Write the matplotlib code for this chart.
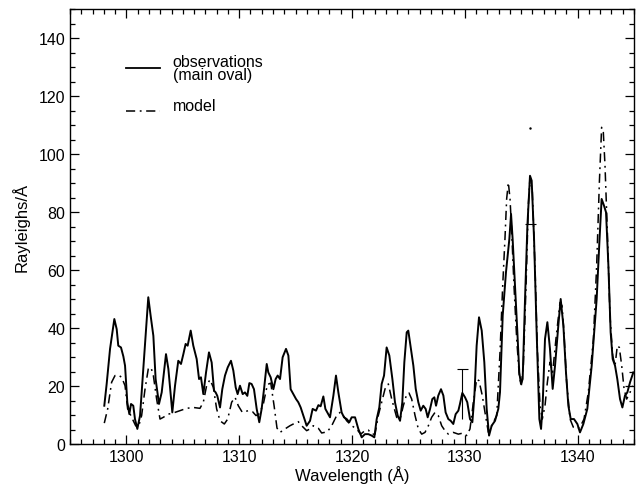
import matplotlib
matplotlib.use("Agg")
import matplotlib.pyplot as plt
from matplotlib.ticker import MultipleLocator

plt.rcParams['font.family'] = ['Liberation Sans', 'DejaVu Sans']

# Observed spectrum (main oval)
obs_wl = [1298.04, 1298.25, 1298.55, 1298.93, 1299.14, 1299.28, 1299.52, 1299.73, 1299.88,
          1300.08, 1300.26, 1300.41, 1300.61, 1300.76, 1300.97, 1301.21, 1301.50, 1301.80,
          1301.94, 1302.15, 1302.39, 1302.59, 1302.89, 1303.13, 1303.51, 1303.72, 1304.07,
          1304.31, 1304.60, 1304.84, 1305.05, 1305.25, 1305.43, 1305.70, 1305.93, 1306.23,
          1306.44, 1306.61, 1306.82, 1307.06, 1307.32, 1307.56, 1307.77, 1307.91, 1308.06,
          1308.30, 1308.50, 1308.74, 1308.98, 1309.27, 1309.48, 1309.69, 1309.86, 1310.07,
          1310.31, 1310.51, 1310.72, 1310.90, 1311.10, 1311.31, 1311.55, 1311.78, 1311.99,
          1312.20, 1312.44, 1312.58, 1312.79, 1313.03, 1313.23, 1313.41, 1313.62, 1313.85,
          1314.15, 1314.36, 1314.56, 1314.80, 1315.04, 1315.24, 1315.45, 1315.69, 1315.98,
          1316.28, 1316.51, 1316.81, 1317.02, 1317.22, 1317.46, 1317.64, 1317.81, 1318.05,
          1318.35, 1318.58, 1318.79, 1319.08, 1319.29, 1319.53, 1319.76, 1319.97, 1320.27,
          1320.56, 1320.86, 1321.15, 1321.45, 1321.74, 1321.98, 1322.19, 1322.42, 1322.63,
          1322.84, 1323.07, 1323.31, 1323.58, 1323.81, 1324.05, 1324.26, 1324.46, 1324.64,
          1324.85, 1324.99, 1325.14, 1325.44, 1325.65, 1325.88, 1326.09, 1326.32, 1326.53,
          1326.71, 1326.92, 1327.12, 1327.30, 1327.45, 1327.65, 1327.89, 1328.10, 1328.30,
          1328.54, 1328.75, 1328.98, 1329.19, 1329.43, 1329.57, 1329.78, 1330.02, 1330.22,
          1330.46, 1330.67, 1330.85, 1331.05, 1331.26, 1331.50, 1331.73, 1331.94, 1332.15,
          1332.38, 1332.68, 1332.97, 1333.12, 1333.36, 1333.65, 1333.95, 1334.10, 1334.24,
          1334.45, 1334.66, 1334.83, 1334.98, 1335.13, 1335.34, 1335.55, 1335.78, 1335.93,
          1336.14, 1336.37, 1336.61, 1336.76, 1336.90, 1337.11, 1337.32, 1337.55, 1337.79,
          1338.00, 1338.29, 1338.50, 1338.74, 1338.97, 1339.18, 1339.39, 1339.68, 1339.98,
          1340.21, 1340.51, 1340.86, 1341.25, 1341.69, 1341.93, 1342.13, 1342.34, 1342.52,
          1342.73, 1342.93, 1343.11, 1343.32, 1343.52, 1343.76, 1343.97, 1344.20, 1344.41,
          1344.65, 1344.94]
obs_val = [13.2, 20.7, 32.8, 43.1, 39.6, 33.9, 33.3, 30.2, 27.0,
           14.4, 10.3, 13.8, 13.2, 8.6, 5.2, 9.8, 25.9, 43.1,
           50.6, 44.2, 37.3, 22.4, 13.8, 17.8, 31.0, 25.9, 10.9,
           20.1, 28.7, 27.6, 31.0, 34.5, 33.9, 39.1, 33.9, 29.3,
           22.4, 23.0, 17.2, 24.7, 31.6, 28.1, 18.4, 17.8, 16.6,
           12.6, 18.9, 23.6, 26.4, 28.7, 25.3, 19.5, 17.2, 20.1,
           17.2, 17.8, 16.6, 21.0, 20.7, 18.9, 12.1, 7.5, 12.1,
           18.9, 27.6, 24.7, 23.0, 18.9, 22.4, 23.6, 22.4, 29.9,
           32.8, 30.5, 18.9, 17.2, 15.5, 14.4, 12.6, 9.8, 6.3,
           8.0, 12.1, 11.5, 13.4, 13.0, 16.4, 12.1, 10.9, 9.2,
           16.7, 23.6, 17.8, 10.9, 9.2, 8.6, 7.5, 9.2, 9.2,
           5.2, 2.3, 3.4, 3.4, 2.9, 2.3, 8.6, 12.6, 20.7,
           23.6, 33.3, 30.5, 22.4, 14.4, 9.8, 8.0, 14.4, 28.2,
           38.5, 39.1, 35.0, 27.0, 19.0, 14.4, 11.5, 13.2, 12.1,
           9.2, 12.1, 15.5, 16.1, 13.2, 16.7, 18.9, 16.7, 10.9,
           8.6, 8.0, 6.9, 10.3, 11.5, 13.8, 17.6, 16.1, 14.4,
           8.6, 7.5, 16.7, 33.9, 43.7, 39.1, 28.2, 12.1, 2.9,
           6.3, 8.0, 12.1, 17.8, 44.3, 59.2, 70.7, 79.3, 70.7,
           54.6, 38.5, 24.7, 20.7, 22.4, 50.0, 75.3, 92.5, 90.8,
           70.7, 38.5, 8.6, 5.2, 13.2, 36.2, 42.0, 32.8, 19.0,
           27.0, 40.8, 50.0, 40.8, 24.7, 13.2, 8.6, 8.6, 6.9,
           4.0, 6.9, 12.1, 27.0, 50.0, 69.5, 84.5, 82.2, 79.9,
           61.5, 38.5, 29.3, 27.0, 22.4, 15.5, 12.6, 16.7, 17.8,
           21.3, 24.7]

# Model spectrum
mod_wl = [1298.04, 1298.34, 1298.69, 1298.99, 1299.28, 1299.58, 1299.88, 1300.11, 1300.47,
          1300.82, 1301.06, 1301.35, 1301.65, 1301.94, 1302.18, 1302.39, 1302.68, 1302.98,
          1303.27, 1303.72, 1304.16, 1304.75, 1305.34, 1305.93, 1306.52, 1306.82, 1307.11,
          1307.41, 1307.71, 1308.00, 1308.30, 1308.68, 1308.98, 1309.33, 1309.63, 1309.92,
          1310.28, 1310.81, 1311.19, 1311.49, 1311.80, 1312.15, 1312.50, 1312.80, 1313.10,
          1313.35, 1313.62, 1314.06, 1314.50, 1314.95, 1315.24, 1315.54, 1315.98, 1316.28,
          1316.57, 1317.02, 1317.31, 1317.81, 1318.20, 1318.64, 1318.94, 1319.23, 1319.53,
          1319.97, 1320.41, 1320.77, 1321.15, 1321.45, 1321.74, 1322.04, 1322.33, 1322.63,
          1322.93, 1323.22, 1323.52, 1323.96, 1324.26, 1324.55, 1324.85, 1325.05, 1325.29,
          1325.59, 1325.88, 1326.18, 1326.47, 1326.77, 1327.06, 1327.36, 1327.65, 1327.95,
          1328.24, 1328.54, 1328.98, 1329.43, 1329.87, 1330.17, 1330.46, 1330.76, 1331.05,
          1331.26, 1331.55, 1331.79, 1332.09, 1332.38, 1332.83, 1333.12, 1333.36, 1333.56,
          1333.71, 1333.86, 1334.01, 1334.16, 1334.36, 1334.60, 1334.83, 1335.01, 1335.19,
          1335.43, 1335.63, 1335.78, 1335.99, 1336.22, 1336.43, 1336.67, 1336.87, 1337.11,
          1337.32, 1337.55, 1337.79, 1338.08, 1338.44, 1338.62, 1338.79, 1339.03, 1339.33,
          1339.62, 1339.98, 1340.21, 1340.57, 1340.95, 1341.40, 1341.69, 1341.93, 1342.13,
          1342.28, 1342.43, 1342.64, 1342.87, 1343.11, 1343.32, 1343.52, 1343.70, 1343.91,
          1344.12, 1344.35, 1344.65, 1344.88]
mod_val = [7.2, 12.1, 21.3, 23.6, 23.8, 23.0, 20.1, 12.1, 9.2,
           6.3, 5.7, 9.8, 18.9, 25.9, 26.4, 23.6, 15.5, 8.6,
           9.2, 10.3, 10.7, 11.5, 12.3, 12.6, 12.3, 14.4, 20.1,
           22.2, 19.5, 12.1, 8.0, 6.9, 8.6, 14.4, 16.1, 13.2,
           10.9, 11.5, 11.1, 9.8, 10.5, 14.0, 20.5, 21.0, 13.0,
           5.5, 4.0, 5.2, 6.3, 7.2, 7.7, 6.3, 4.6, 5.2,
           6.3, 5.4, 3.8, 4.2, 6.3, 9.8, 10.9, 9.8, 8.0,
           6.3, 5.2, 3.4, 4.6, 4.8, 3.4, 3.4, 9.8, 14.4,
           19.0, 20.7, 15.5, 9.2, 8.6, 13.2, 17.2, 17.6, 15.5,
           9.8, 5.2, 3.4, 4.0, 6.3, 9.2, 10.9, 9.8, 6.3,
           4.6, 3.4, 4.0, 3.4, 3.8, 2.9, 5.2, 14.4, 22.4,
           21.8, 16.7, 10.9, 4.0, 6.3, 9.8, 31.6, 54.6, 70.7,
           84.5, 90.2, 84.5, 73.0, 54.6, 36.2, 23.6, 20.1, 27.0,
           54.6, 82.2, 91.9, 86.8, 61.5, 32.8, 13.2, 8.6, 13.2,
           21.3, 28.2, 24.7, 36.2, 48.8, 47.7, 38.5, 21.3, 8.6,
           5.8, 5.2, 5.8, 8.6, 17.8, 36.2, 61.5, 90.2, 109.2,
           107.5, 96.0, 73.0, 44.3, 30.5, 27.0, 33.9, 33.3, 27.0,
           19.0, 15.5, 17.8, 20.1]

# error bar marks (wavelength, low, high)
err_wl = [1329.78, 1335.8]
err_lo = [8.6, 76.0]
err_hi = [25.9, 109.0]

fig = plt.figure(figsize=(6.36, 4.89), dpi=100)
ax = fig.add_axes([70 / 636, 44 / 489, 564 / 636, 435 / 489])

ax.plot(obs_wl, obs_val, color='black', lw=1.4, solid_joinstyle='round')
ax.plot(mod_wl, mod_val, color='black', lw=1.1, dashes=(6, 3, 1.2, 3))

# error bar at 1329.8 (full) and the faint one at 1335.8 (lower cap + top dot)
ax.vlines(err_wl[0], err_lo[0], err_hi[0], color='black', lw=0.8)
ax.hlines(err_hi[0], err_wl[0] - 0.5, err_wl[0] + 0.5, color='black', lw=0.8)
ax.hlines(err_lo[1], err_wl[1] - 0.5, err_wl[1] + 0.5, color='black', lw=0.8)
ax.plot([err_wl[1]], [err_hi[1]], marker='.', ms=1.5, color='black')

ax.set_xlim(1295, 1345)
ax.set_ylim(0, 150)
ax.xaxis.set_major_locator(MultipleLocator(10))
ax.xaxis.set_minor_locator(MultipleLocator(1))
ax.yaxis.set_major_locator(MultipleLocator(20))
ax.yaxis.set_minor_locator(MultipleLocator(5))
ax.tick_params(which='both', direction='in', top=True, right=True, labelsize=11.5, width=0.9)
ax.tick_params(which='major', length=6.5)
ax.tick_params(which='minor', length=3.5)
for s in ax.spines.values():
    s.set_linewidth(1.0)

ax.set_xlabel('Wavelength (Å)', fontsize=12, labelpad=1)
ax.set_ylabel('Rayleighs/Å', fontsize=12, labelpad=6)

# hand-made legend
ax.plot([0.099, 0.160], [0.864, 0.864], transform=ax.transAxes, color='black', lw=1.3)
ax.plot([0.099, 0.160], [0.766, 0.766], transform=ax.transAxes, color='black', lw=1.1,
        dashes=(6, 3, 1.2, 3))
ax.text(0.182, 0.864, 'observations\n(main oval)', transform=ax.transAxes, fontsize=11.5,
        va='center', ha='left', linespacing=0.85)
ax.text(0.182, 0.778, 'model', transform=ax.transAxes, fontsize=11.5, va='center', ha='left')

fig.savefig('out.png', dpi=100)
